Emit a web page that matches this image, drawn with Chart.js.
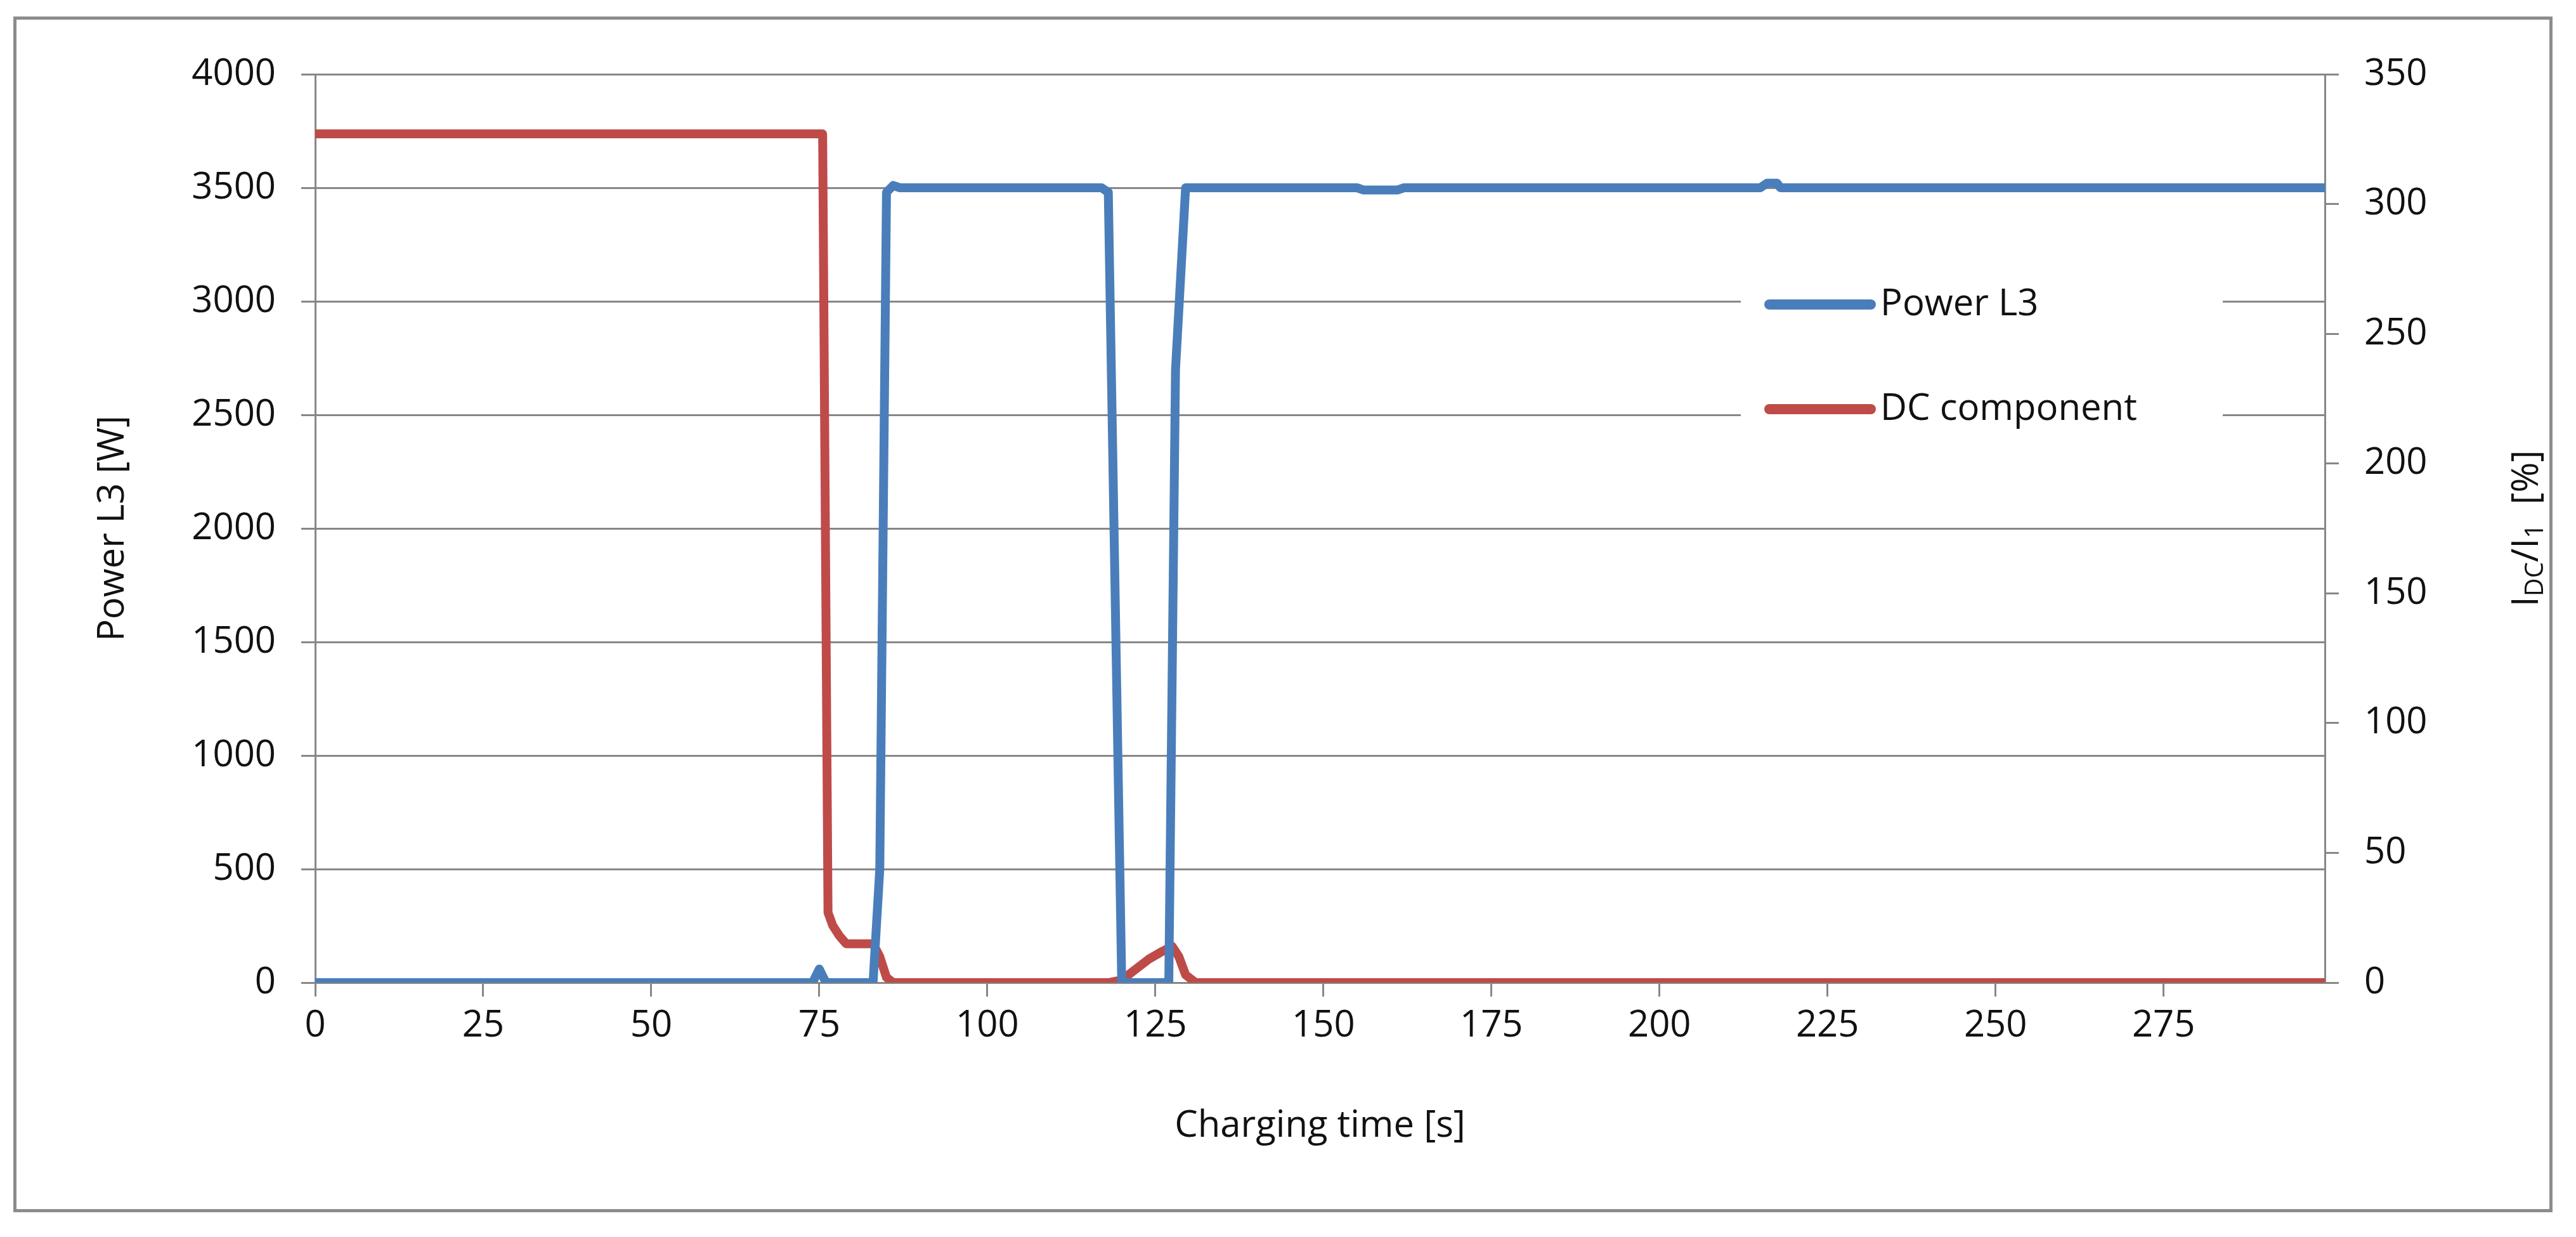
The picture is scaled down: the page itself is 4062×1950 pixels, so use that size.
<!DOCTYPE html>
<html>
<head>
<meta charset="utf-8">
<script src="https://cdn.jsdelivr.net/npm/chart.js@4.4.1/dist/chart.umd.min.js"></script>
<style>
  html, body { margin: 0; padding: 0; background: #fff; }
  #wrap { position: relative; width: 4062px; height: 1950px; }
  #frame { position: absolute; left: 21px; top: 26px; width: 4004px; height: 1885px; border: 5px solid #8c8c8c; box-sizing: border-box; }
  canvas { position: absolute; left: 0; top: 0; }
</style>
</head>
<body>
<div id="wrap">
  <div id="frame"></div>
  <canvas id="chart" width="4062" height="1950"></canvas>
</div>
<script>
// Power L3 [W] vs charging time [s] (breakpoints)
const powerTime = [0, 74, 75, 76, 83, 84, 85, 86, 87, 117, 118, 120, 127, 128, 129.5, 155, 156, 161, 162, 215, 216, 217.5, 218, 299];
const powerVals = [0, 0, 60, 0, 0, 500, 3480, 3510, 3500, 3500, 3480, 0, 0, 2700, 3500, 3500, 3490, 3490, 3500, 3500, 3520, 3520, 3500, 3500];

// DC component IDC/I1 [%]
const dcTime = [0, 75.5, 76.3, 77, 78, 79, 82, 83, 84, 85, 86, 118, 120, 122, 124, 126, 127.5, 128.5, 129.5, 131, 299];
const dcVals = [327, 327, 27, 22, 18, 15, 15, 15, 10, 2, 0, 0, 1, 5, 9, 12, 14, 10, 3, 0, 0];

const xTicks = [0, 25, 50, 75, 100, 125, 150, 175, 200, 225, 250, 275];
const seriesNames = ['Power L3', 'DC component'];

const FONT = 'Open Sans';
const GRID = '#878787';

function pts(xs, ys) { return xs.map((x, i) => ({ x: x, y: ys[i] })); }

const legendPlugin = {
  id: 'insideLegend',
  afterDraw(chart) {
    const c = chart.ctx;
    const x0 = 2745, y0 = 430, w = 760;
    c.save();
    c.fillStyle = '#fff';
    c.fillRect(x0, y0, w, 280);
    c.font = '58px "' + FONT + '"';
    c.textBaseline = 'middle';
    chart.data.datasets.forEach((ds, i) => {
      const y = y0 + 50 + i * 165;
      c.strokeStyle = ds.borderColor;
      c.lineWidth = 16;
      c.lineCap = 'round';
      c.beginPath();
      c.moveTo(x0 + 45, y);
      c.lineTo(x0 + 205, y);
      c.stroke();
      c.fillStyle = '#111';
      c.fillText(ds.label, x0 + 220, y);
    });
    c.restore();
  }
};

const titlePlugin = {
  id: 'axisTitles',
  afterDraw(chart) {
    const c = chart.ctx;
    const a = chart.chartArea;
    const midY = (a.top + a.bottom) / 2;
    c.save();
    c.fillStyle = '#111';
    c.textBaseline = 'middle';
    c.textAlign = 'center';
    c.font = '58px "' + FONT + '"';
    c.fillText('Charging time [s]', (a.left + a.right) / 2, 1775);
    c.save();
    c.translate(178, midY);
    c.rotate(-Math.PI / 2);
    c.fillText('Power L3 [W]', 0, 0);
    c.restore();
    c.save();
    c.translate(3985, midY);
    c.rotate(-Math.PI / 2);
    const parts = [['I', 58, 0], ['DC', 40, 14], ['/I', 58, 0], ['1', 40, 14], ['  [%]', 58, 0]];
    let total = 0;
    parts.forEach(p => { c.font = p[1] + 'px "' + FONT + '"'; total += c.measureText(p[0]).width; });
    let x = -total / 2;
    c.textAlign = 'left';
    parts.forEach(p => {
      c.font = p[1] + 'px "' + FONT + '"';
      c.fillText(p[0], x, p[2]);
      x += c.measureText(p[0]).width;
    });
    c.restore();
    c.restore();
  }
};

const plain = v => String(v);

new Chart(document.getElementById('chart'), {
  type: 'line',
  data: {
    datasets: [
      {
        label: seriesNames[0],
        data: pts(powerTime, powerVals),
        yAxisID: 'y',
        borderColor: '#4A7EBB',
        borderWidth: 14,
        pointRadius: 0,
        tension: 0,
        borderJoinStyle: 'round'
      },
      {
        label: seriesNames[1],
        data: pts(dcTime, dcVals),
        yAxisID: 'y2',
        borderColor: '#BE4B48',
        borderWidth: 14,
        pointRadius: 0,
        tension: 0,
        borderJoinStyle: 'round'
      }
    ]
  },
  options: {
    responsive: false,
    animation: false,
    layout: { padding: { top: 117, left: 0, right: 0, bottom: 0 } },
    plugins: { legend: { display: false }, tooltip: { enabled: false } },
    scales: {
      x: {
        type: 'linear',
        min: 0,
        max: 299,
        afterBuildTicks: s => { s.ticks = xTicks.map(v => ({ value: v })); },
        afterFit: s => { s.height = 401; },
        grid: { display: true, drawOnChartArea: false, color: GRID, lineWidth: 3, tickLength: 22 },
        border: { color: GRID, width: 3 },
        ticks: { color: '#111', font: { family: FONT, size: 58 }, padding: 12, maxRotation: 0, callback: plain }
      },
      y: {
        position: 'left',
        min: 0,
        max: 4000,
        ticks: { stepSize: 500, color: '#111', font: { family: FONT, size: 58 }, padding: 40, callback: plain },
        afterFit: s => { s.width = 497; },
        grid: { color: GRID, lineWidth: 3, tickLength: 22 },
        border: { color: GRID, width: 3 }
      },
      y2: {
        position: 'right',
        min: 0,
        max: 350,
        ticks: { stepSize: 50, color: '#111', font: { family: FONT, size: 58 }, padding: 40, callback: plain },
        afterFit: s => { s.width = 396; },
        grid: { drawOnChartArea: false, color: GRID, lineWidth: 3, tickLength: 22 },
        border: { color: GRID, width: 3 }
      }
    }
  },
  plugins: [legendPlugin, titlePlugin]
});
</script>
</body>
</html>
